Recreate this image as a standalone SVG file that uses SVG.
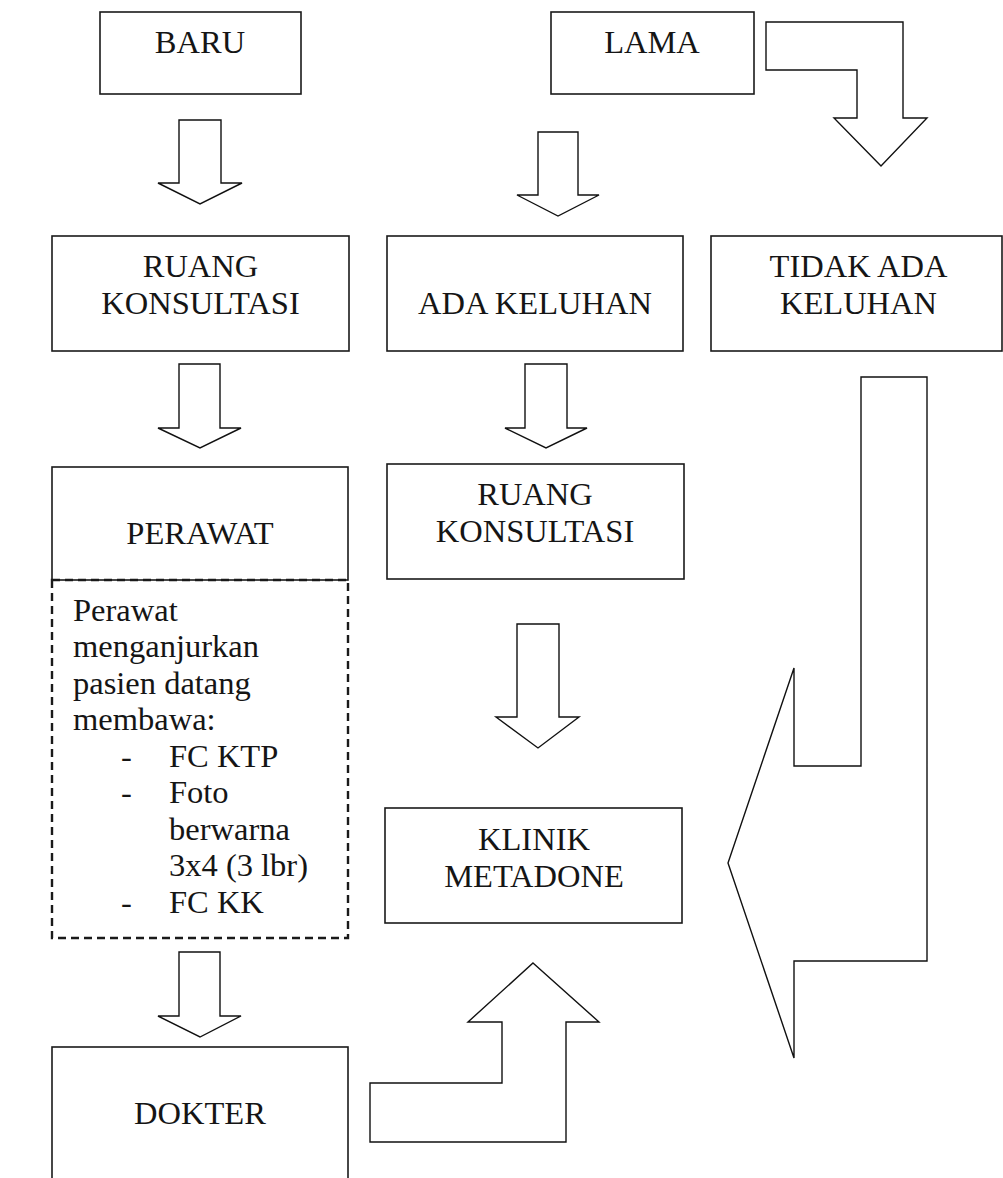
<svg xmlns="http://www.w3.org/2000/svg" width="1003" height="1178" viewBox="0 0 1003 1178">
<style>
.box{fill:#fff;stroke:#1a1a1a;stroke-width:1.6}
.dash{fill:none;stroke:#1a1a1a;stroke-width:2.4;stroke-dasharray:8 5}
.arr{fill:#fff;stroke:#111;stroke-width:1.4;stroke-linejoin:miter}
.t{font-family:"Liberation Serif","Times New Roman",serif;font-size:32.5px;fill:#151515;text-anchor:middle}
.tl{font-family:"Liberation Serif","Times New Roman",serif;font-size:32.5px;fill:#151515}
</style>
<rect width="1003" height="1178" fill="#fff"/>
<g id="connectors">
<polygon class="arr" points="179,120 221,120 221,183 242,183 200,204 158,183 179,183"/>
<polygon class="arr" points="766,22 903,22 903,118 927,118 881,166 834,118 857,118 857,70 766,70"/>
<polygon class="arr" points="538,132 578,132 578,195 599,195 558,216 517,195 538,195"/>
<polygon class="arr" points="179,364 220,364 220,428 241,428 200,448 158,428 179,428"/>
<polygon class="arr" points="525,364 567,364 567,428 587,428 546,448 505,428 525,428"/>
<polygon class="arr" points="517,624 559,624 559,717 579,717 538,748 496,717 517,717"/>
<polygon class="arr" points="861,377 927,377 927,961 794,961 794,1058 728,863 794,668 794,766 861,766"/>
<polygon class="arr" points="179,952 220,952 220,1016 241,1016 200,1037 158,1016 179,1016"/>
<polygon class="arr" points="533,963 599,1022 566,1022 566,1142 370,1142 370,1083 502,1083 502,1022 468,1022"/>
</g>
<g id="node-baru">
<rect class="box" x="100" y="12" width="201" height="82"/>
<text class="t" x="200" y="53">BARU</text>
</g>
<g id="node-lama">
<rect class="box" x="551" y="12" width="203" height="82"/>
<text class="t" x="652" y="53">LAMA</text>
</g>
<g id="node-ruang-konsultasi-1">
<rect class="box" x="52" y="236" width="297" height="115"/>
<text class="t" x="200.5" y="277">RUANG</text>
<text class="t" x="200.5" y="314">KONSULTASI</text>
</g>
<g id="node-ada-keluhan">
<rect class="box" x="387" y="236" width="296" height="115"/>
<text class="t" x="535" y="314">ADA KELUHAN</text>
</g>
<g id="node-tidak-ada-keluhan">
<rect class="box" x="711" y="236" width="291" height="115"/>
<text class="t" x="858.5" y="277">TIDAK ADA</text>
<text class="t" x="858.5" y="314">KELUHAN</text>
</g>
<g id="node-perawat">
<rect class="box" x="52" y="467" width="296" height="113"/>
<text class="t" x="200" y="544">PERAWAT</text>
</g>
<g id="node-ruang-konsultasi-2">
<rect class="box" x="387" y="464" width="297" height="115"/>
<text class="t" x="535" y="505">RUANG</text>
<text class="t" x="535" y="542">KONSULTASI</text>
</g>
<g id="node-catatan-perawat">
<rect class="dash" x="52" y="580" width="296" height="358"/>
<text class="tl" x="73" y="620.5">Perawat</text>
<text class="tl" x="73" y="657">menganjurkan</text>
<text class="tl" x="73" y="693.5">pasien datang</text>
<text class="tl" x="73" y="730">membawa:</text>
<text class="tl" x="121" y="766.5">-</text>
<text class="tl" x="169" y="766.5">FC KTP</text>
<text class="tl" x="121" y="803">-</text>
<text class="tl" x="169" y="803">Foto</text>
<text class="tl" x="169" y="839.5">berwarna</text>
<text class="tl" x="169" y="876">3x4 (3 lbr)</text>
<text class="tl" x="121" y="912.5">-</text>
<text class="tl" x="169" y="912.5">FC KK</text>
</g>
<g id="node-klinik-metadone">
<rect class="box" x="385" y="808" width="297" height="115"/>
<text class="t" x="534" y="850">KLINIK</text>
<text class="t" x="534" y="887">METADONE</text>
</g>
<g id="node-dokter">
<rect class="box" x="52" y="1047" width="296" height="140"/>
<text class="t" x="200" y="1124">DOKTER</text>
</g>
</svg>
